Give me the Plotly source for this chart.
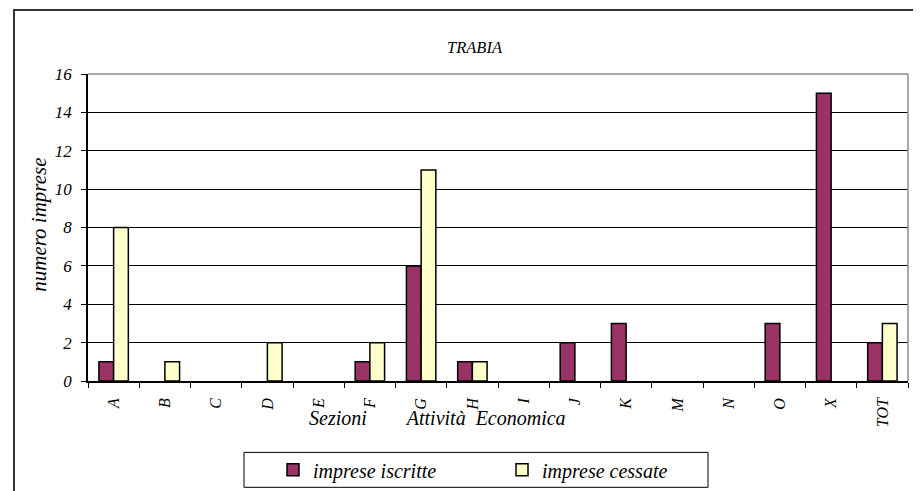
import plotly.graph_objects as go

categories = ["A", "B", "C", "D", "E", "F", "G", "H", "I", "J", "K", "M", "N", "O", "X", "TOT"]
iscritte = [1, 0, 0, 0, 0, 1, 6, 1, 0, 2, 3, 0, 0, 3, 15, 2]
cessate = [8, 1, 0, 2, 0, 2, 11, 1, 0, 0, 0, 0, 0, 0, 0, 3]
y_ticks = [0, 2, 4, 6, 8, 10, 12, 14, 16]

FONT = "Liberation Serif"
OFF = 8  # page body margin
W, H = 921 - OFF, 491 - OFF
L, R, T, B = 80, 13, 66, 109.5
pw, ph = W - L - R, H - T - B

def px_x(x):
    return (x - OFF - L) / pw

def px_y(y):
    return (H - B - (y - OFF)) / ph

def nz(vals):
    return [v if v else None for v in vals]

def f(size):
    return dict(family=FONT, size=size, style="italic", color="black")

fig = go.Figure()
fig.add_trace(go.Bar(x=categories, y=nz(iscritte), name="imprese iscritte",
                     marker=dict(color="#993366", line=dict(color="black", width=1.5))))
fig.add_trace(go.Bar(x=categories, y=nz(cessate), name="imprese cessate",
                     marker=dict(color="#FFFFCC", line=dict(color="black", width=1.5))))

fig.update_layout(
    width=W, height=H,
    margin=dict(l=L, r=R, t=T, b=B, autoexpand=False),
    paper_bgcolor="white", plot_bgcolor="white",
    barmode="group", bargap=0.426, bargroupgap=0,
    font=f(14),
    showlegend=True,
    legend=dict(orientation="h", x=px_x(273), y=px_y(470.5), xanchor="left", yanchor="middle",
                borderwidth=0, bgcolor="rgba(0,0,0,0)", font=f(20),
                entrywidth=184, itemwidth=30),
)
fig.update_xaxes(
    type="category", showline=True, linecolor="black", linewidth=1.5,
    ticks="outside", tickson="boundaries", ticklen=5, tickcolor="black", tickwidth=1,
    tickangle=-90, tickfont=f(16), ticklabelstandoff=9,
    showgrid=False, zeroline=False, fixedrange=True,
)
fig.update_yaxes(
    range=[0, 16], tickvals=y_ticks, showline=True, linecolor="black", linewidth=1.5,
    ticks="outside", ticklen=5, tickcolor="black", tickwidth=1,
    tickfont=f(17),
    showgrid=True, gridcolor="black", gridwidth=1, zeroline=False, fixedrange=True,
    ticklabelstandoff=6,
)

# plot-area border (gray, top and right), legend box and outer chart border
fig.add_shape(type="line", xref="paper", yref="paper", x0=0, x1=1, y0=1, y1=1,
              line=dict(color="#8c8c8c", width=1.5))
fig.add_shape(type="line", xref="paper", yref="paper", x0=1, x1=1, y0=0, y1=1,
              line=dict(color="#8c8c8c", width=1.5))
fig.add_shape(type="rect", xref="paper", yref="paper",
              x0=px_x(244), x1=px_x(708), y0=px_y(488), y1=px_y(453),
              line=dict(color="black", width=1), fillcolor="white", layer="below")
fig.add_shape(type="rect", xref="paper", yref="paper",
              x0=px_x(14), x1=px_x(930), y0=px_y(500), y1=px_y(10),
              line=dict(color="#333333", width=2))

fig.add_annotation(text="TRABIA", xref="paper", yref="paper", x=px_x(474.5), y=px_y(47),
                   xanchor="center", yanchor="middle", showarrow=False, font=f(16.5))
fig.add_annotation(text="numero imprese", xref="paper", yref="paper", x=px_x(39), y=px_y(225),
                   xanchor="center", yanchor="middle", showarrow=False, textangle=-90, font=f(21))
fig.add_annotation(text="Sezioni" + "\u00a0" * 8 + "Attività" + "\u00a0" * 2 + "Economica",
                   xref="paper", yref="paper", x=px_x(437), y=px_y(419),
                   xanchor="center", yanchor="middle", showarrow=False, font=f(20))

fig.write_html("out.html")
